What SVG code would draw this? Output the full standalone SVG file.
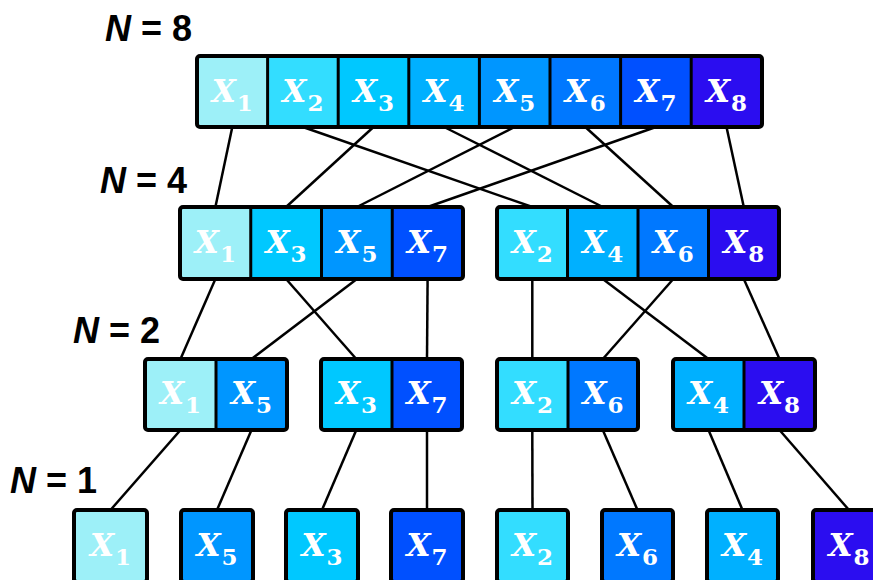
<svg xmlns="http://www.w3.org/2000/svg" width="873" height="580" viewBox="0 0 873 580">
<style>
.lbl{font-family:"Liberation Sans",Arial,sans-serif;font-weight:bold;font-size:36px;fill:#000}
.lbl .n{font-style:italic}
.frame{fill:none;stroke:#000;stroke-width:4;stroke-linejoin:round}
.div{stroke:#000;stroke-width:3}
.v{font-family:"DejaVu Serif","Liberation Serif",serif;font-weight:bold;font-size:31px;fill:#fff;text-anchor:middle}
.v .x{font-style:italic}
.v .s{font-size:23px;font-style:normal;font-weight:600}
.c1{fill:#9DF0F8}.c2{fill:#33DDFF}.c3{fill:#00C8FF}.c4{fill:#00B0FF}
.c5{fill:#0096FF}.c6{fill:#0078FF}.c7{fill:#0050FF}.c8{fill:#2B0DF0}
.conn line{stroke:#000;stroke-width:2.5}
</style>
<rect width="873" height="580" fill="#fff"/>
<g id="labels">
<text class="lbl" x="105" y="41"><tspan class="n">N</tspan> = 8</text>
<text class="lbl" x="100" y="193"><tspan class="n">N</tspan> = 4</text>
<text class="lbl" x="73" y="343"><tspan class="n">N</tspan> = 2</text>
<text class="lbl" x="10" y="493"><tspan class="n">N</tspan> = 1</text>
</g>
<g id="connectors" class="conn">
<line x1="232.3" y1="127" x2="215.4" y2="207"/>
<line x1="302.9" y1="127" x2="532.3" y2="207"/>
<line x1="373.5" y1="127" x2="286.1" y2="207"/>
<line x1="444.1" y1="127" x2="602.8" y2="207"/>
<line x1="514.7" y1="127" x2="356.9" y2="207"/>
<line x1="585.3" y1="127" x2="673.3" y2="207"/>
<line x1="655.9" y1="127" x2="427.6" y2="207"/>
<line x1="726.5" y1="127" x2="743.8" y2="207"/>
<line x1="215.4" y1="279" x2="180.5" y2="359"/>
<line x1="286.1" y1="279" x2="356.3" y2="359"/>
<line x1="356.9" y1="279" x2="251.5" y2="359"/>
<line x1="427.6" y1="279" x2="427" y2="359"/>
<line x1="532.3" y1="279" x2="532.3" y2="359"/>
<line x1="602.8" y1="279" x2="708.5" y2="359"/>
<line x1="673.3" y1="279" x2="602.8" y2="359"/>
<line x1="743.8" y1="279" x2="779.5" y2="359"/>
<line x1="180.5" y1="430" x2="110.5" y2="510"/>
<line x1="251.5" y1="430" x2="217" y2="510"/>
<line x1="356.3" y1="430" x2="322" y2="510"/>
<line x1="427" y1="430" x2="427" y2="510"/>
<line x1="532.3" y1="430" x2="532.5" y2="510"/>
<line x1="602.8" y1="430" x2="637.5" y2="510"/>
<line x1="708.5" y1="430" x2="742.5" y2="510"/>
<line x1="779.5" y1="430" x2="849" y2="510"/>
</g>
<g id="n8">
<rect class="c1" x="197" y="56" width="70.6" height="71"/>
<rect class="c2" x="267.6" y="56" width="70.6" height="71"/>
<rect class="c3" x="338.2" y="56" width="70.6" height="71"/>
<rect class="c4" x="408.8" y="56" width="70.6" height="71"/>
<rect class="c5" x="479.4" y="56" width="70.6" height="71"/>
<rect class="c6" x="550" y="56" width="70.6" height="71"/>
<rect class="c7" x="620.6" y="56" width="70.6" height="71"/>
<rect class="c8" x="691.2" y="56" width="70.8" height="71"/>
<line class="div" x1="267.6" y1="56" x2="267.6" y2="127"/>
<line class="div" x1="338.2" y1="56" x2="338.2" y2="127"/>
<line class="div" x1="408.8" y1="56" x2="408.8" y2="127"/>
<line class="div" x1="479.4" y1="56" x2="479.4" y2="127"/>
<line class="div" x1="550" y1="56" x2="550" y2="127"/>
<line class="div" x1="620.6" y1="56" x2="620.6" y2="127"/>
<line class="div" x1="691.2" y1="56" x2="691.2" y2="127"/>
<rect class="frame" x="197" y="56" width="565" height="71" rx="3"/>
<text class="v" x="232.3" y="102"><tspan class="x">X</tspan><tspan class="s" dx="1" dy="9">1</tspan></text>
<text class="v" x="302.9" y="102"><tspan class="x">X</tspan><tspan class="s" dx="1" dy="9">2</tspan></text>
<text class="v" x="373.5" y="102"><tspan class="x">X</tspan><tspan class="s" dx="1" dy="9">3</tspan></text>
<text class="v" x="444.1" y="102"><tspan class="x">X</tspan><tspan class="s" dx="1" dy="9">4</tspan></text>
<text class="v" x="514.7" y="102"><tspan class="x">X</tspan><tspan class="s" dx="1" dy="9">5</tspan></text>
<text class="v" x="585.3" y="102"><tspan class="x">X</tspan><tspan class="s" dx="1" dy="9">6</tspan></text>
<text class="v" x="655.9" y="102"><tspan class="x">X</tspan><tspan class="s" dx="1" dy="9">7</tspan></text>
<text class="v" x="726.5" y="102"><tspan class="x">X</tspan><tspan class="s" dx="1" dy="9">8</tspan></text>
</g>
<g id="n4-odd">
<rect class="c1" x="180" y="207" width="70.75" height="72"/>
<rect class="c3" x="250.75" y="207" width="70.75" height="72"/>
<rect class="c5" x="321.5" y="207" width="70.75" height="72"/>
<rect class="c7" x="392.25" y="207" width="70.75" height="72"/>
<line class="div" x1="250.75" y1="207" x2="250.75" y2="279"/>
<line class="div" x1="321.5" y1="207" x2="321.5" y2="279"/>
<line class="div" x1="392.25" y1="207" x2="392.25" y2="279"/>
<rect class="frame" x="180" y="207" width="283" height="72" rx="3"/>
<text class="v" x="215.4" y="253"><tspan class="x">X</tspan><tspan class="s" dx="1" dy="9">1</tspan></text>
<text class="v" x="286.1" y="253"><tspan class="x">X</tspan><tspan class="s" dx="1" dy="9">3</tspan></text>
<text class="v" x="356.9" y="253"><tspan class="x">X</tspan><tspan class="s" dx="1" dy="9">5</tspan></text>
<text class="v" x="427.6" y="253"><tspan class="x">X</tspan><tspan class="s" dx="1" dy="9">7</tspan></text>
</g>
<g id="n4-even">
<rect class="c2" x="497" y="207" width="70.5" height="72"/>
<rect class="c4" x="567.5" y="207" width="70.5" height="72"/>
<rect class="c6" x="638" y="207" width="70.5" height="72"/>
<rect class="c8" x="708.5" y="207" width="70.5" height="72"/>
<line class="div" x1="567.5" y1="207" x2="567.5" y2="279"/>
<line class="div" x1="638" y1="207" x2="638" y2="279"/>
<line class="div" x1="708.5" y1="207" x2="708.5" y2="279"/>
<rect class="frame" x="497" y="207" width="282" height="72" rx="3"/>
<text class="v" x="532.3" y="253"><tspan class="x">X</tspan><tspan class="s" dx="1" dy="9">2</tspan></text>
<text class="v" x="602.8" y="253"><tspan class="x">X</tspan><tspan class="s" dx="1" dy="9">4</tspan></text>
<text class="v" x="673.3" y="253"><tspan class="x">X</tspan><tspan class="s" dx="1" dy="9">6</tspan></text>
<text class="v" x="743.8" y="253"><tspan class="x">X</tspan><tspan class="s" dx="1" dy="9">8</tspan></text>
</g>
<g id="n2-15">
<rect class="c1" x="145" y="359" width="71" height="71"/>
<rect class="c5" x="216" y="359" width="71" height="71"/>
<line class="div" x1="216" y1="359" x2="216" y2="430"/>
<rect class="frame" x="145" y="359" width="142" height="71" rx="3"/>
<text class="v" x="180.5" y="404"><tspan class="x">X</tspan><tspan class="s" dx="1" dy="9">1</tspan></text>
<text class="v" x="251.5" y="404"><tspan class="x">X</tspan><tspan class="s" dx="1" dy="9">5</tspan></text>
</g>
<g id="n2-37">
<rect class="c3" x="321" y="359" width="71" height="71"/>
<rect class="c7" x="392" y="359" width="70" height="71"/>
<line class="div" x1="392" y1="359" x2="392" y2="430"/>
<rect class="frame" x="321" y="359" width="141" height="71" rx="3"/>
<text class="v" x="356.5" y="404"><tspan class="x">X</tspan><tspan class="s" dx="1" dy="9">3</tspan></text>
<text class="v" x="427" y="404"><tspan class="x">X</tspan><tspan class="s" dx="1" dy="9">7</tspan></text>
</g>
<g id="n2-26">
<rect class="c2" x="497" y="359" width="71" height="71"/>
<rect class="c6" x="568" y="359" width="70" height="71"/>
<line class="div" x1="568" y1="359" x2="568" y2="430"/>
<rect class="frame" x="497" y="359" width="141" height="71" rx="3"/>
<text class="v" x="532.5" y="404"><tspan class="x">X</tspan><tspan class="s" dx="1" dy="9">2</tspan></text>
<text class="v" x="603" y="404"><tspan class="x">X</tspan><tspan class="s" dx="1" dy="9">6</tspan></text>
</g>
<g id="n2-48">
<rect class="c4" x="673" y="359" width="71" height="71"/>
<rect class="c8" x="744" y="359" width="71" height="71"/>
<line class="div" x1="744" y1="359" x2="744" y2="430"/>
<rect class="frame" x="673" y="359" width="142" height="71" rx="3"/>
<text class="v" x="708.5" y="404"><tspan class="x">X</tspan><tspan class="s" dx="1" dy="9">4</tspan></text>
<text class="v" x="779.5" y="404"><tspan class="x">X</tspan><tspan class="s" dx="1" dy="9">8</tspan></text>
</g>
<g id="n1-x1"><rect class="c1" x="74" y="510" width="73" height="72" rx="3"/><rect class="frame" x="74" y="510" width="73" height="72" rx="3"/><text class="v" x="110.5" y="556"><tspan class="x">X</tspan><tspan class="s" dx="1" dy="9">1</tspan></text></g>
<g id="n1-x5"><rect class="c5" x="181" y="510" width="72" height="72" rx="3"/><rect class="frame" x="181" y="510" width="72" height="72" rx="3"/><text class="v" x="217" y="556"><tspan class="x">X</tspan><tspan class="s" dx="1" dy="9">5</tspan></text></g>
<g id="n1-x3"><rect class="c3" x="286" y="510" width="72" height="72" rx="3"/><rect class="frame" x="286" y="510" width="72" height="72" rx="3"/><text class="v" x="322" y="556"><tspan class="x">X</tspan><tspan class="s" dx="1" dy="9">3</tspan></text></g>
<g id="n1-x7"><rect class="c7" x="391" y="510" width="72" height="72" rx="3"/><rect class="frame" x="391" y="510" width="72" height="72" rx="3"/><text class="v" x="427" y="556"><tspan class="x">X</tspan><tspan class="s" dx="1" dy="9">7</tspan></text></g>
<g id="n1-x2"><rect class="c2" x="497" y="510" width="71" height="72" rx="3"/><rect class="frame" x="497" y="510" width="71" height="72" rx="3"/><text class="v" x="532.5" y="556"><tspan class="x">X</tspan><tspan class="s" dx="1" dy="9">2</tspan></text></g>
<g id="n1-x6"><rect class="c6" x="602" y="510" width="71" height="72" rx="3"/><rect class="frame" x="602" y="510" width="71" height="72" rx="3"/><text class="v" x="637.5" y="556"><tspan class="x">X</tspan><tspan class="s" dx="1" dy="9">6</tspan></text></g>
<g id="n1-x4"><rect class="c4" x="707" y="510" width="71" height="72" rx="3"/><rect class="frame" x="707" y="510" width="71" height="72" rx="3"/><text class="v" x="742.5" y="556"><tspan class="x">X</tspan><tspan class="s" dx="1" dy="9">4</tspan></text></g>
<g id="n1-x8"><rect class="c8" x="813" y="510" width="72" height="72" rx="3"/><rect class="frame" x="813" y="510" width="72" height="72" rx="3"/><text class="v" x="849" y="556"><tspan class="x">X</tspan><tspan class="s" dx="1" dy="9">8</tspan></text></g>
</svg>
